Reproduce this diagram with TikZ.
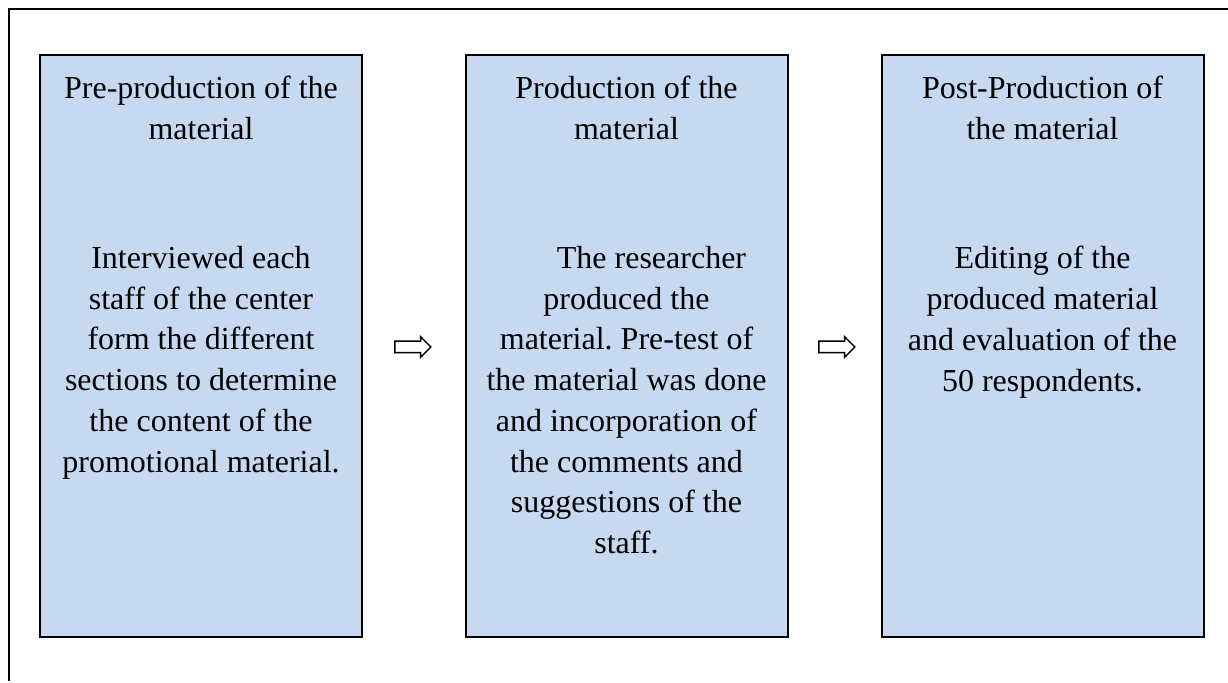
\documentclass[tikz,border=0pt]{standalone}
\usepackage{fontspec}
\setmainfont{Liberation Serif}
\usetikzlibrary{shapes.arrows}
\definecolor{boxblue}{RGB}{198,217,241}
\frenchspacing
\begin{document}
\begin{tikzpicture}[x=0.5pt,y=-0.5pt,
  stagebox/.style={draw=black, fill=boxblue, line width=1pt, minimum width=161pt, minimum height=291pt, inner sep=0pt},
  stagetext/.style={font=\fontsize{16pt}{20.35pt}\selectfont, align=center, inner sep=0pt, anchor=north},
  flowarrow/.style={single arrow, draw=black, line width=0.75pt, fill=white, minimum height=18pt, minimum width=9.5pt, inner sep=2.5pt, single arrow head extend=2.25pt},
  framerule/.style={draw=black, line width=0.75pt}]
\useasboundingbox (0,0) rectangle (1228,683);
% outer frame
\coordinate (ftr) at (1228,9);
\coordinate (ftl) at (9,9);
\coordinate (fbl) at (9,681);
\draw[framerule] (ftr) -- (ftl) -- (fbl);
% boxes
\node[stagebox] (b1) at (201,346) {};
\node[stagebox] (b2) at (626.5,346) {};
\node[stagebox] (b3) at (1042.5,346) {};
% titles
\node[stagetext] (t1) at (201,76) {Pre-production of the\\material};
\node[stagetext] (t2) at (626.5,76) {Production of the\\material};
\node[stagetext] (t3) at (1042.5,76) {Post-Production of\\the material};
% bodies
\node[stagetext] (d1) at (201,246) {Interviewed each\\staff of the center\\form the different\\sections to determine\\the content of the\\promotional material.};
\node[stagetext] (d2) at (626.5,246) {\hspace*{25pt}The researcher\\produced the\\material. Pre-test of\\the material was done\\and incorporation of\\the comments and\\suggestions of the\\staff.};
\node[stagetext] (d3) at (1042.5,246) {Editing of the\\produced material\\and evaluation of the\\50 respondents.};
% arrows
\node[flowarrow] (a1) at (410,347) {};
\node[flowarrow] (a2) at (834,347) {};
\end{tikzpicture}
\end{document}
